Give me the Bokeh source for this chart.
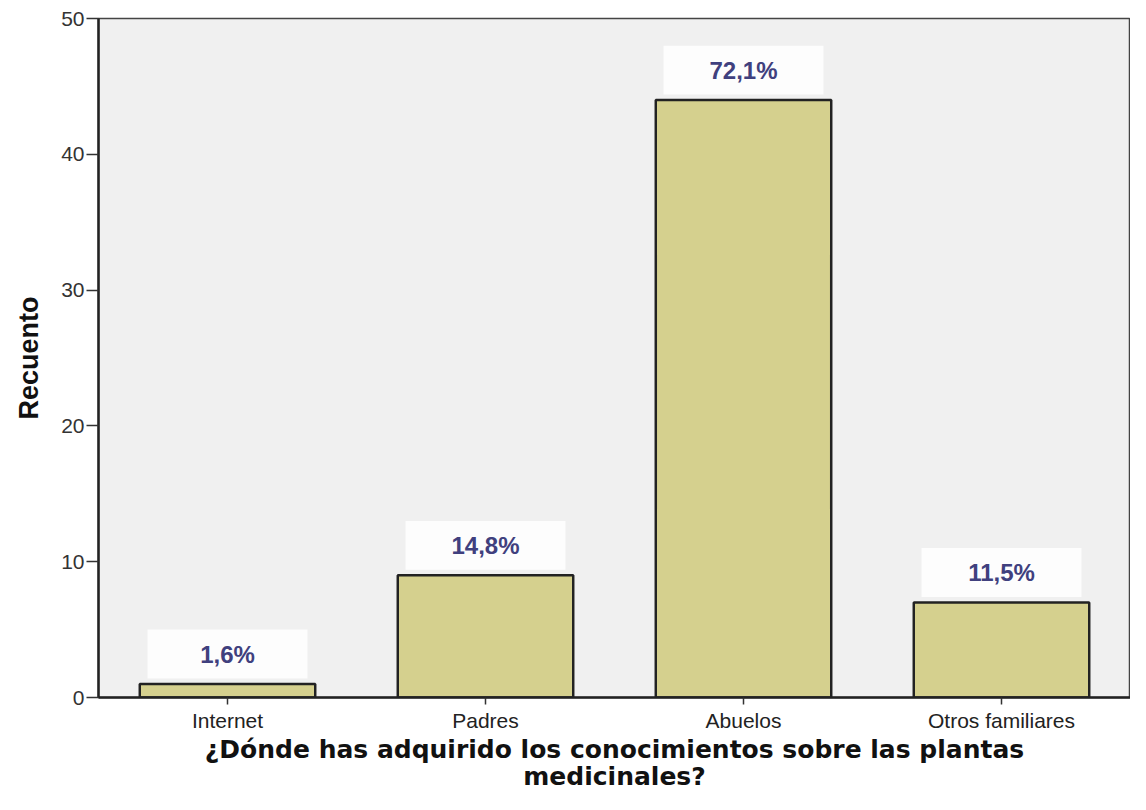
from bokeh.plotting import figure
from bokeh.models import ColumnDataSource, FixedTicker
from bokeh.core.properties import value
from bokeh.embed import file_html
from bokeh.resources import INLINE

categories = ["Internet", "Padres", "Abuelos", "Otros familiares"]
counts = [1, 9, 44, 7]
pct_labels = ["1,6%", "14,8%", "72,1%", "11,5%"]
y_ticks = [0, 10, 20, 30, 40, 50]

label_gap = 2.2  # data units above bar top for label centre
src = ColumnDataSource(dict(cat=categories, val=counts, lab=pct_labels,
                            ly=[c + label_gap for c in counts]))

p = figure(x_range=categories, y_range=(0, 50), width=1130, height=794,
           output_backend="svg", toolbar_location=None,
           min_border_left=98, min_border_right=0, min_border_top=18, min_border_bottom=95)
p.background_fill_color = "#f0f0f0"
p.border_fill_color = "white"
p.outline_line_color = "#444444"
p.outline_line_width = 1.5
p.grid.visible = False
p.x_range.range_padding = 0.0

p.vbar(x="cat", top="val", width=0.68, source=src, fill_color="#d5d08e",
       line_color="#222222", line_width=2.5)

p.rect(x="cat", y="ly", width=0.62, height=3.6, source=src,
       fill_color="white", fill_alpha=0.85, line_color=None)
p.text(x="cat", y="ly", text="lab", source=src,
       text_align="center", text_baseline="middle",
       text_color="#40407e", text_font_size="24px", text_font_style="bold",
       text_font=value("Liberation Sans"))

p.yaxis.ticker = FixedTicker(ticks=y_ticks)
p.yaxis.minor_tick_line_color = None
p.yaxis.major_tick_out = 12
p.yaxis.major_tick_in = 0
p.yaxis.major_tick_line_color = "#333333"
p.yaxis.major_tick_line_width = 1.5
p.yaxis.axis_line_color = "#222222"
p.yaxis.axis_line_width = 2.5
p.yaxis.major_label_text_font_size = "21px"
p.yaxis.major_label_text_font = "Liberation Sans"
p.yaxis.major_label_text_color = "#333333"
p.yaxis.major_label_standoff = 2
p.yaxis.axis_label = "Recuento"
p.yaxis.axis_label_text_font_size = "27px"
p.yaxis.axis_label_text_font_style = "bold"
p.yaxis.axis_label_text_font = "Liberation Sans"
p.yaxis.axis_label_text_color = "#111111"
p.yaxis.axis_label_standoff = 14

p.xaxis.axis_line_color = "#222222"
p.xaxis.axis_line_width = 2.5
p.xaxis.major_tick_out = 7
p.xaxis.major_tick_in = 0
p.xaxis.major_tick_line_color = "#333333"
p.xaxis.major_tick_line_width = 1.5
p.xaxis.major_label_text_font_size = "21px"
p.xaxis.major_label_text_font = "Liberation Sans"
p.xaxis.major_label_text_color = "#222222"
p.xaxis.major_label_standoff = 4
p.xaxis.axis_label = "¿Dónde has adquirido los conocimientos sobre las plantas\nmedicinales?"
p.xaxis.axis_label_text_font_size = "25px"
p.xaxis.axis_label_text_font_style = "bold"
p.xaxis.axis_label_text_font = "DejaVu Sans"
p.xaxis.axis_label_text_color = "#111111"
p.xaxis.axis_label_standoff = 0
p.xaxis.axis_label_text_line_height = 0.95

open("out.html", "w").write(file_html(p, INLINE))
